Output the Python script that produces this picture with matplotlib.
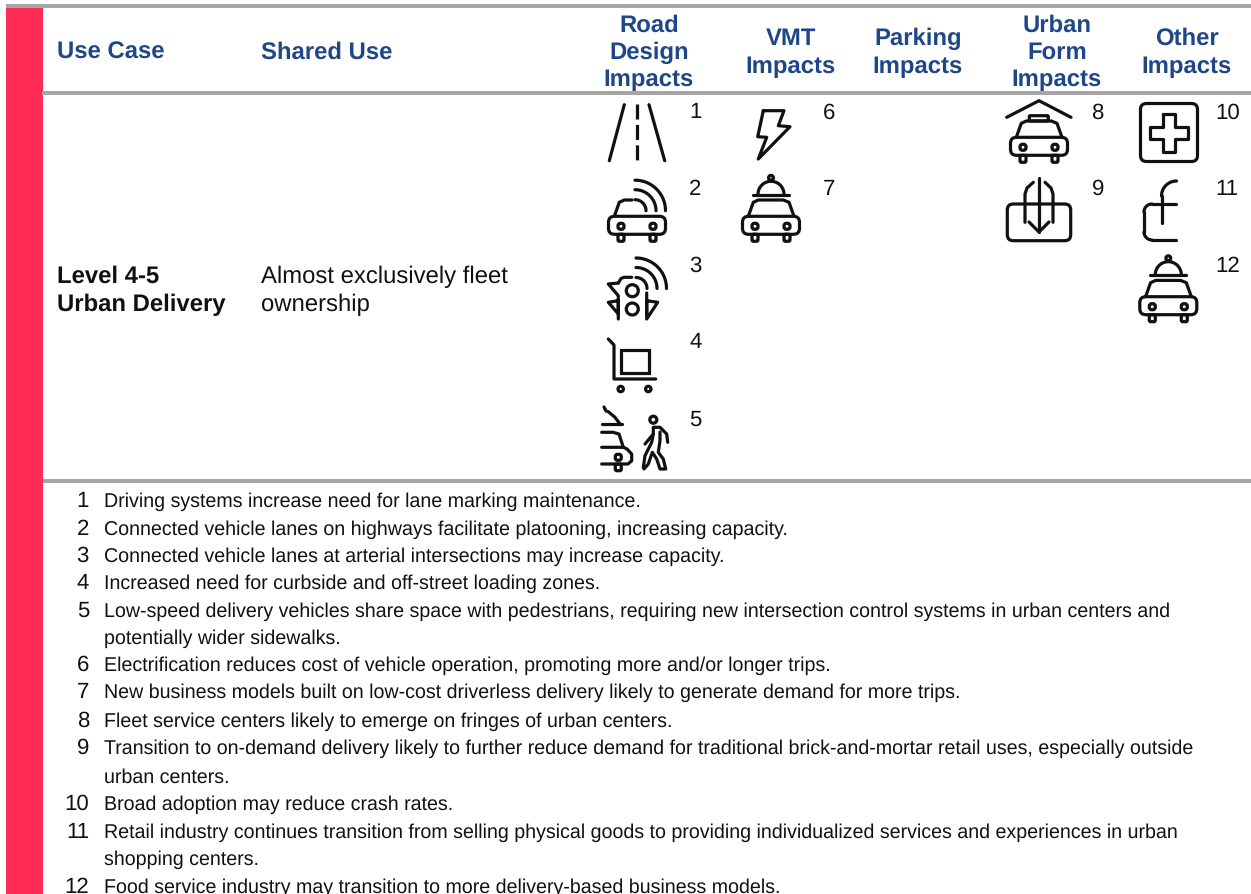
# -*- coding: utf-8 -*-
import numpy as np
import matplotlib
matplotlib.use("Agg")
import matplotlib.pyplot as plt
from matplotlib.patches import Rectangle, FancyBboxPatch, Circle

plt.rcParams["text.hinting"] = "no_hinting"
plt.rcParams["font.family"] = ["Liberation Sans", "DejaVu Sans"]

RED = "#ff2d55"
GREY = "#a6a6a6"
BLUE = "#1f4788"
INK = "#111111"
LW = 2.3

# table text
headers = ["Use Case", "Shared Use", "Road\nDesign\nImpacts", "VMT\nImpacts",
           "Parking\nImpacts", "Urban\nForm\nImpacts", "Other\nImpacts"]
header_x = [57, 261, 649, 791, 918, 1057, 1187]
use_case = ["Level 4-5", "Urban Delivery"]
shared_use = ["Almost exclusively fleet", "ownership"]

# icon reference numbers
ref_numbers = ["1", "2", "3", "4", "5", "6", "7", "8", "9", "10", "11", "12"]
ref_x = [689, 689, 689, 689, 689, 822.5, 822.5, 1091.5, 1091.5, 1215, 1215, 1215]
ref_y = [118.3, 195, 271.7, 348, 425.7, 118.3, 195, 118.3, 195, 118.3, 195, 271.7]

# footnotes
note_numbers = ["1", "2", "3", "4", "5", "", "6", "7", "8", "9", "", "10", "11", "", "12"]
note_y = [506.7, 535, 561.7, 589, 616.7, 644, 671, 698, 726.7, 754, 782.7, 810, 838, 865, 892.7]
notes = [
    "Driving systems increase need for lane marking maintenance.",
    "Connected vehicle lanes on highways facilitate platooning, increasing capacity.",
    "Connected vehicle lanes at arterial intersections may increase capacity.",
    "Increased need for curbside and off-street loading zones.",
    "Low-speed delivery vehicles share space with pedestrians, requiring new intersection control systems in urban centers and",
    "potentially wider sidewalks.",
    "Electrification reduces cost of vehicle operation, promoting more and/or longer trips.",
    "New business models built on low-cost driverless delivery likely to generate demand for more trips.",
    "Fleet service centers likely to emerge on fringes of urban centers.",
    "Transition to on-demand delivery likely to further reduce demand for traditional brick-and-mortar retail uses, especially outside",
    "urban centers.",
    "Broad adoption may reduce crash rates.",
    "Retail industry continues transition from selling physical goods to providing individualized services and experiences in urban",
    "shopping centers.",
    "Food service industry may transition to more delivery-based business models.",
]

fig = plt.figure(figsize=(12.51, 8.95), dpi=100)
ax = fig.add_axes([0, 0, 1, 1])
ax.set_xlim(0, 1251)
ax.set_ylim(895, 0)
ax.axis("off")


def line(xs, ys, lw=LW, **kw):
    ax.plot(xs, ys, color=INK, lw=lw, solid_capstyle="round",
            solid_joinstyle="round", **kw)


def rbox(x0, y0, x1, y1, r=3, fill="none"):
    ax.add_patch(FancyBboxPatch((x0 + r, y0 + r), x1 - x0 - 2 * r, y1 - y0 - 2 * r,
                                boxstyle="round,pad=%f,rounding_size=%f" % (r, r),
                                fc=fill, ec=INK, lw=LW, zorder=3))


def arc(cx, cy, r, a0, a1):
    t = np.radians(np.linspace(a0, a1, 40))
    line(cx + r * np.cos(t), cy + r * np.sin(t))


def car(cx, y0, roof="full"):
    # y0 is the top edge of the car body
    rbox(cx - 28.5, y0, cx + 28.5, y0 + 18, r=6)
    for s in (-1, 1):
        rbox(cx + s * 16 - 3, y0 + 18, cx + s * 16 + 3, y0 + 25, r=1.5)
        rbox(cx + s * 16 - 3, y0 + 7, cx + s * 16 + 3, y0 + 13, r=2.5)
    if roof == "full":
        line([cx - 22.7, cx - 17.7, cx - 12.7, cx + 12.3, cx + 18, cx + 23],
             [y0, y0 - 14, y0 - 16.3, y0 - 16.3, y0 - 14, y0])
    elif roof == "left":
        line([cx - 22.7, cx - 17.7, cx - 12.7, cx - 5],
             [y0, y0 - 14, y0 - 16.3, y0 - 16.3])


def cloche(cx, y0):
    line([cx - 18, cx + 18], [y0 - 21.7, y0 - 21.7])
    arc(cx, y0 - 22, 13, 180, 360)
    ax.add_patch(Circle((cx, y0 - 38.5), 2.4, fc="white", ec=INK, lw=LW))


def wifi(cx, cy):
    for r in (11, 21, 30.5):
        arc(cx, cy, r, -90, 0)


# road
line([624.3, 609.3], [105.7, 161.7])
line([649, 664.7], [105.7, 161.7])
ax.plot([637, 637], [105, 162], color=INK, lw=LW, linestyle=(0, (4.7, 1.7)))

# car with signal
car(637, 217.3, roof="left")
wifi(635, 211.7)

# traffic light with signal
for cy in (291.7, 310):
    ax.add_patch(Circle((632.3, cy), 6, fc="none", ec=INK, lw=LW))
line([618.3, 618.3, 608.3, 618.3, 618.3, 608.3, 618.3, 618.3],
     [320, 301.7, 303.3, 315, 296.7, 285, 284, 284])
line([618.3, 621, 624, 631.7], [284, 279.5, 278.3, 278.3])
line([646.7, 646.7, 657.7, 646.7, 646.7], [294, 320, 303.3, 301.7, 315])
wifi(636, 289.5)

# cart
line([608.3, 614, 614, 655.7], [340, 346, 380, 380])
ax.add_patch(Rectangle((620.7, 351), 28.6, 23, fc="none", ec=INK, lw=LW))
for cx in (620.7, 648.3):
    ax.add_patch(Circle((cx, 390), 2.7, fc="white", ec=INK, lw=LW))

# half car and pedestrian
line([604, 606, 608.3, 615, 620], [408, 412, 412.7, 418.3, 425])
line([601.7, 621.7], [425, 425])
line([601.7, 613, 619, 623.3], [433.3, 433.3, 435, 448.3])
line([601.7, 623.3, 627, 631.7, 631.7, 628, 601.7], [448.3, 448.3, 450, 455, 461.7, 465, 465])
rbox(615.3, 455.3, 621.3, 461.3, r=2.2)
rbox(615.3, 465, 621.3, 471.7, r=1.5)
ax.add_patch(Circle((653.3, 420.7), 3.5, fc="none", ec=INK, lw=LW))
line([645, 653.3, 653.3, 660, 666.7, 667.7], [445, 435, 428.3, 428.3, 435, 443.3])
line([660, 660, 658.3, 663.3, 665.7, 660, 656.7, 652.3, 648.3, 644, 643.3, 645, 651.7, 653.3],
     [433, 441.7, 453.3, 460, 470, 470, 460, 453.3, 465, 470, 468.3, 456.7, 443.3, 435])

# bolt
line([763.3, 784, 778.3, 790, 758.3, 766.7, 757.7, 763.3],
     [111.7, 111.7, 126.7, 127.7, 160, 138.3, 137.7, 111.7])

# car with cloche
car(771, 217.3)
cloche(771, 217.3)

# fleet service center
line([1006.7, 1039, 1071], [118.3, 101.7, 118.3])
car(1039, 138.3)
rbox(1029.3, 116.7, 1048.3, 122, r=1)

# online shop
rbox(1007.3, 205, 1070.7, 241.7, r=6)
line([1039, 1039], [179, 233])
line([1029, 1039, 1049], [223, 233, 223])
line([1025, 1025, 1027, 1033.3], [223.3, 195, 189, 183.3])
line([1053, 1053, 1051, 1045], [223.3, 195, 189, 183.3])

# cross
rbox(1140.5, 104.5, 1197.5, 162.5, r=6)
cross_x = [1162.5, 1175, 1175, 1188, 1188, 1175, 1175, 1162.5, 1162.5, 1150, 1150, 1162.5, 1162.5]
cross_y = [114.5, 114.5, 127.5, 127.5, 140, 140, 152.5, 152.5, 140, 140, 127.5, 127.5, 114.5]
line(cross_x, cross_y)

# retail
arc(1176.5, 197, 15, 180, 270)
line([1161.5, 1161.5], [197, 224])
line([1176, 1152], [205, 205])
arc(1152, 213, 8, 180, 270)
line([1144, 1144], [213, 233])
arc(1152, 233, 8, 90, 180)
line([1152, 1176], [241, 241])

# car with cloche
car(1168.3, 297.7)
cloche(1168.3, 297.7)

# rules and side band
ax.add_patch(Rectangle((6, 9), 37, 886, fc=RED, ec="none"))
ax.add_patch(Rectangle((6, 5), 1245, 4, fc=GREY, ec="none"))
ax.add_patch(Rectangle((42, 92), 1209, 4, fc=GREY, ec="none"))
ax.add_patch(Rectangle((43, 480), 1208, 4, fc=GREY, ec="none"))

# header
for i, h in enumerate(headers):
    rows = h.split("\n")
    y0 = 59 - (len(rows) - 1) * 13.75
    for j, row in enumerate(rows):
        ax.text(header_x[i], y0 + j * 27.5, row, fontsize=17.2, fontweight="bold",
                color=BLUE, va="baseline", ha="left" if i < 2 else "center")

for y, a, b in zip([283, 311], use_case, shared_use):
    ax.text(57, y, a, fontsize=17.2, fontweight="bold", color=INK, va="baseline")
    ax.text(261, y, b, fontsize=17.2, color=INK, va="baseline")

for n, x, y in zip(ref_numbers, ref_x, ref_y):
    ax.text(x, y, n, fontsize=16, color=INK, va="baseline", ha="left")

for n, y, t in zip(note_numbers, note_y, notes):
    ax.text(89, y, n, fontsize=16, color=INK, va="baseline", ha="right")
    ax.text(104, y, t, fontsize=14.15, color=INK, va="baseline")

fig.savefig("out.png", dpi=100)
